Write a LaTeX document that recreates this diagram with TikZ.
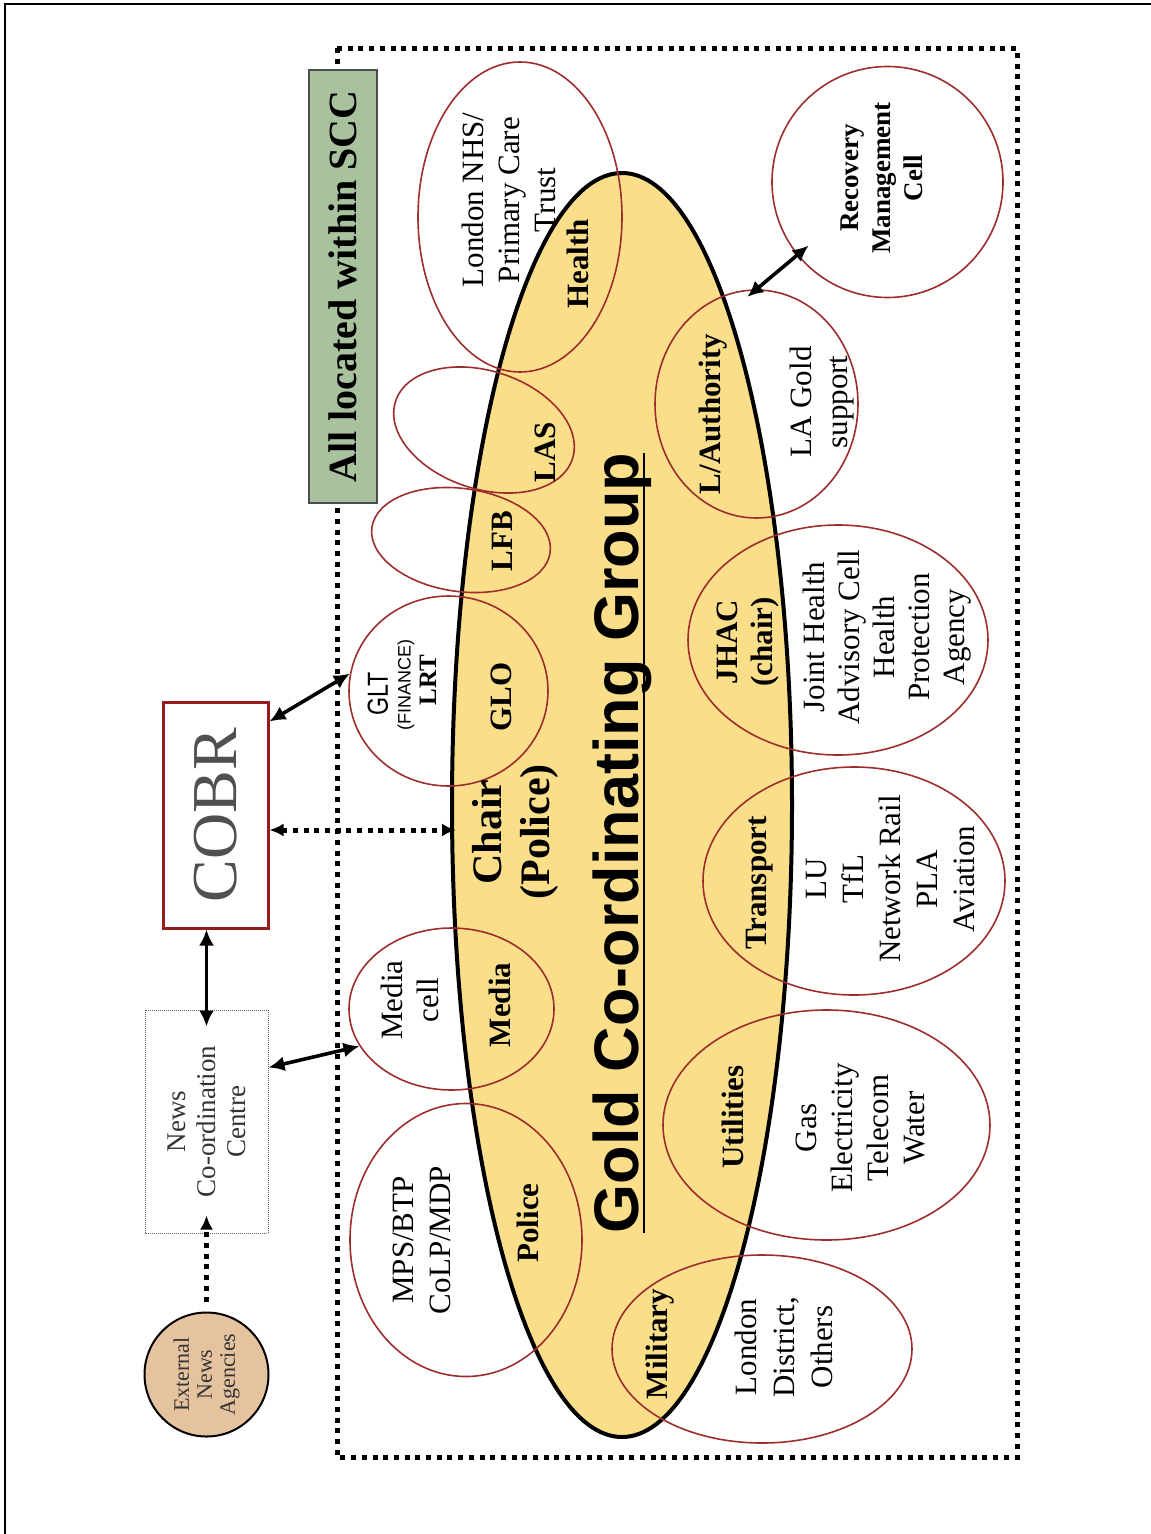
\documentclass[tikz,border=0pt]{standalone}
\usepackage{fontspec}
\setmainfont{Liberation Serif}
\newfontfamily\titlefont{Liberation Sans}
\newfontfamily\narrowfont[FakeStretch=0.8]{Liberation Sans}
\usetikzlibrary{shapes.geometric,arrows.meta}
\definecolor{goldfill}{RGB}{250,222,138}
\definecolor{cellred}{RGB}{158,45,45}
\definecolor{cobrred}{RGB}{150,28,28}
\definecolor{cobrgray}{RGB}{80,80,80}
\definecolor{sccgreen}{RGB}{168,194,158}
\definecolor{tanfill}{RGB}{228,195,158}

\begin{document}
\begin{tikzpicture}[x=1pt,y=-1pt,
    cell/.style={ellipse, draw=cellred, line width=1.6pt, inner sep=0pt},
    txt/.style={rotate=90, align=center, font=\fontsize{31}{36}\selectfont},
    lbl/.style={rotate=90, align=center, font=\fontsize{31}{36}\selectfont\bfseries},
    link/.style={line width=3.6pt, {Latex[length=16pt,width=15pt]}-{Latex[length=16pt,width=15pt]}},
    dotlink/.style={line width=5pt, dash pattern=on 5pt off 5.7pt}]
    \useasboundingbox (0,0) rectangle (1151,1534);
    % page frame and SCC boundary
    \draw[line width=2pt] (5,1534) -- (5,4) -- (1151,4);
    \draw[dotlink] (337,48) rectangle (1017,1457);
    \node[draw=black!70, line width=1.2pt, fill=sccgreen, rotate=90, minimum width=433, minimum height=68,
        font=\fontsize{40}{44}\selectfont\bfseries] (scc) at (343,286.5) {All located within SCC};

    % the gold group
    \node[ellipse, draw, line width=4pt, fill=goldfill, minimum width=340, minimum height=1264, inner sep=0pt] (gcg) at (622,805) {};

    % member cells
    \node[cell, minimum width=204, minimum height=310] (nhs) at (520,217) {};
    \node[cell, minimum width=186, minimum height=118, rotate=-18] (las) at (484,430) {};
    \node[cell, minimum width=180, minimum height=103, rotate=-8] (lfb) at (461,540) {};
    \node[cell, minimum width=199, minimum height=190] (glt) at (448.5,691) {};
    \node[cell, minimum width=205, minimum height=162] (media) at (451.5,1009) {};
    \node[cell, minimum width=232, minimum height=273] (police) at (466,1240) {};
    \node[cell, minimum width=300, minimum height=188] (military) at (762,1349) {};
    \node[cell, minimum width=327, minimum height=230] (utilities) at (826.5,1125) {};
    \node[cell, minimum width=302, minimum height=228] (transport) at (854,881) {};
    \node[cell, minimum width=300, minimum height=230] (jhac) at (838,640) {};
    \node[cell, minimum width=203, minimum height=228] (lagold) at (756.5,404) {};
    \node[cell, minimum width=231, minimum height=231] (recovery) at (887.5,182) {};

    % labels
    \node[rotate=90, anchor=base, inner sep=0pt, font=\titlefont\fontsize{63}{66}\selectfont\bfseries] (gold) at (638,843) {Gold Co-ordinating Group};
    \draw[line width=2pt] ([xshift=6pt]gold.base west) -- ([xshift=6pt]gold.base east);
    \node[lbl, font=\fontsize{42}{48}\selectfont\bfseries] (chair) at (515,832) {Chair\\(Police)};
    \node[txt] (nhstxt) at (509,200) {London NHS/\\Primary Care\\Trust};
    \node[lbl] (health) at (578,264) {Health};
    \node[lbl] (lastxt) at (545,452) {LAS};
    \node[lbl] (lfbtxt) at (502,541) {LFB};
    \node[rotate=90, font=\narrowfont\fontsize{29}{30}\selectfont] (glttxt) at (378,694) {GLT};
    \node[rotate=90, font=\titlefont\fontsize{18}{20}\selectfont] (finance) at (406,685) {(FINANCE)};
    \node[rotate=90, font=\fontsize{25}{28}\selectfont\bfseries] (lrt) at (428,680) {LRT};
    \node[lbl] (glo) at (501,697) {GLO};
    \node[txt] (mediatxt) at (410,1000) {Media\\cell};
    \node[lbl] (medialbl) at (500,1005) {Media};
    \node[txt, font=\fontsize{31}{37}\selectfont] (mps) at (422,1240) {MPS/BTP\\CoLP/MDP};
    \node[lbl] (policelbl) at (528,1223) {Police};
    \node[lbl] (militarylbl) at (660,1344) {Military};
    \node[txt, font=\fontsize{31}{38}\selectfont] (district) at (784,1347) {London\\District,\\Others};
    \node[lbl] (utillbl) at (733,1117) {Utilities};
    \node[txt] (utiltxt) at (860,1128) {Gas\\Electricity\\Telecom\\Water};
    \node[lbl] (translbl) at (760,883) {Transport};
    \node[txt, font=\fontsize{31}{37}\selectfont] (transtxt) at (890,879) {LU\\TfL\\Network Rail\\PLA\\Aviation};
    \node[lbl, font=\fontsize{31}{35}\selectfont\bfseries] (jhaclbl) at (748,642) {JHAC\\(chair)};
    \node[txt, font=\fontsize{31}{35}\selectfont] (jhactxt) at (887,637) {Joint Health\\Advisory Cell\\Health\\Protection\\Agency};
    \node[lbl] (lalbl) at (713,414) {L/Authority};
    \node[txt] (latxt) at (822,402) {LA Gold\\support};
    \node[lbl, font=\fontsize{27}{32}\selectfont\bfseries] (rectxt) at (882,178) {Recovery\\Management\\Cell};

    % COBR and the news side
    \node[draw=cobrred, line width=3pt, rotate=90, minimum width=226, minimum height=105, text=cobrgray,
        font=\fontsize{64}{70}\selectfont] (cobr) at (215.5,815) {COBR};
    \node[draw=black!60, line width=1pt, densely dotted, rotate=90, minimum width=223, minimum height=123, align=center,
        text=black!80, font=\fontsize{27}{30}\selectfont] (news) at (206.5,1121.5) {News\\Co-ordination\\Centre};
    \node[circle, draw, line width=2pt, fill=tanfill, rotate=90, minimum size=124, inner sep=0pt, align=center,
        text=black!80, font=\fontsize{22}{23}\selectfont] (ext) at (206.5,1374.5) {External\\News\\Agencies};
    \coordinate (chairpt) at (456,830);

    % connectors
    \draw[link] ([yshift=-21pt]cobr.south east) -- (glt.170);
    \draw[link, shorten >=-17pt] (news.east |- cobr.west) -- (news.east);
    \draw[link] ([yshift=54pt]news.south) -- (media.202);
    \draw[link, shorten <=-12pt, shorten >=-15pt] (lagold.north) -- (recovery.219);
    \draw[dotlink, {Latex[length=14pt,width=13pt]}-{Latex[length=14pt,width=13pt]}] (cobr.south |- chairpt) -- (chairpt);
    \draw[dotlink, -{Latex[length=14pt,width=13pt]}, shorten <=10pt, shorten >=-18pt] (ext.east) -- (news.west);
\end{tikzpicture}
\end{document}
